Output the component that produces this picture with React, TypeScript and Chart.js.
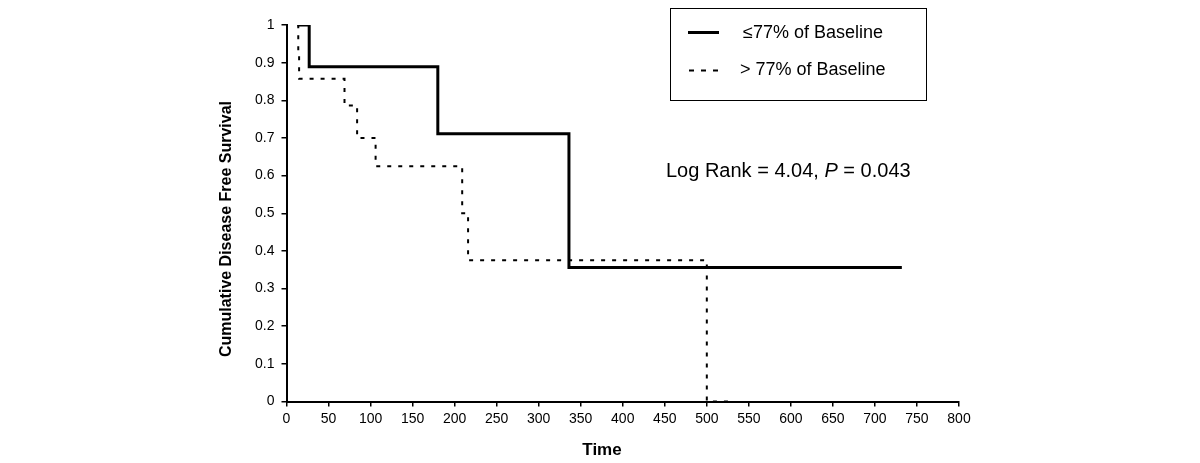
import React, { useEffect, useRef } from "react";
import { Chart, registerables } from "chart.js";

Chart.register(...registerables);

// Kaplan-Meier step data (time, cumulative survival)
const solidTimes = [13, 27, 180, 336, 732];
const solidSurvival = [1, 0.889, 0.711, 0.356, 0.356];
const dottedTimes = [13, 14, 15, 69, 84, 106, 209, 216, 500, 530];
const dottedSurvival = [1, 0.929, 0.857, 0.786, 0.7, 0.625, 0.5, 0.375, 0, 0];

const seriesLabels = ["\u226477% of Baseline", "> 77% of Baseline"];
const xTitle = "Time";
const yTitle = "Cumulative Disease Free Survival";
const statText = ["Log Rank = 4.04, ", "P", " = 0.043"];

const xMin = 0;
const xMax = 800;
const xStep = 50;
const yMin = 0;
const yMax = 1;
const yStep = 0.1;

const FONT = "'Liberation Sans', Arial, Helvetica, sans-serif";

const overlayPlugin = {
  id: "overlay",
  afterDraw(chart: any) {
    const ctx = chart.ctx as CanvasRenderingContext2D;
    ctx.save();
    ctx.fillStyle = "#000";
    ctx.strokeStyle = "#000";

    // Y axis title
    ctx.save();
    ctx.translate(227, 229);
    ctx.rotate(-Math.PI / 2);
    ctx.font = `bold 16px ${FONT}`;
    ctx.textAlign = "center";
    ctx.textBaseline = "middle";
    ctx.fillText(yTitle, 0, 0);
    ctx.restore();

    // X axis title
    ctx.font = `bold 17px ${FONT}`;
    ctx.textAlign = "center";
    ctx.textBaseline = "middle";
    ctx.fillText(xTitle, 602, 450);

    // Legend box
    ctx.lineWidth = 1;
    ctx.strokeRect(670.5, 8.5, 256, 92);
    ctx.lineWidth = 3;
    ctx.setLineDash([]);
    ctx.beginPath();
    ctx.moveTo(688, 32.5);
    ctx.lineTo(719, 32.5);
    ctx.stroke();
    ctx.lineWidth = 2;
    ctx.setLineDash([5, 7]);
    ctx.beginPath();
    ctx.moveTo(689, 70.5);
    ctx.lineTo(719, 70.5);
    ctx.stroke();
    ctx.setLineDash([]);
    ctx.font = `18px ${FONT}`;
    ctx.textAlign = "left";
    ctx.textBaseline = "middle";
    ctx.fillText(seriesLabels[0], 743, 33);
    ctx.fillText(seriesLabels[1], 740, 70);

    // Statistic annotation
    let x = 666;
    const y = 171;
    ctx.font = `20px ${FONT}`;
    ctx.fillText(statText[0], x, y);
    x += ctx.measureText(statText[0]).width;
    ctx.font = `italic 20px ${FONT}`;
    ctx.fillText(statText[1], x, y);
    x += ctx.measureText(statText[1]).width;
    ctx.font = `20px ${FONT}`;
    ctx.fillText(statText[2], x, y);

    ctx.restore();
  },
};

export default function App() {
  const canvasRef = useRef<HTMLCanvasElement | null>(null);

  useEffect(() => {
    if (!canvasRef.current) return;
    Chart.defaults.font.family = FONT;
    Chart.defaults.color = "#000";

    const chart = new Chart(canvasRef.current, {
      type: "line",
      data: {
        datasets: [
          {
            label: seriesLabels[0],
            data: solidTimes.map((t, i) => ({ x: t, y: solidSurvival[i] })),
            borderColor: "#000",
            borderWidth: 3,
            stepped: "before",
            pointRadius: 0,
            fill: false,
          },
          {
            label: seriesLabels[1],
            data: dottedTimes.map((t, i) => ({ x: t, y: dottedSurvival[i] })),
            borderColor: "#000",
            borderWidth: 2,
            borderDash: [4, 7],
            stepped: "before",
            pointRadius: 0,
            fill: false,
          },
        ],
      },
      options: {
        responsive: false,
        animation: false,
        layout: { padding: { left: 0, top: 25, right: 241, bottom: 0 } },
        plugins: {
          legend: { display: false },
          tooltip: { enabled: false },
          title: { display: false },
        },
        scales: {
          x: {
            type: "linear",
            min: xMin,
            max: xMax,
            ticks: {
              stepSize: xStep,
              autoSkip: false,
              maxRotation: 0,
              color: "#000",
              font: { size: 14 },
              padding: 4,
            },
            grid: {
              drawOnChartArea: false,
              drawTicks: true,
              tickLength: 5,
              color: "#000",
              lineWidth: 1.5,
            },
            border: { display: true, color: "#000", width: 2 },
            afterFit: (s: any) => {
              s.height = 61.5;
            },
          },
          y: {
            type: "linear",
            min: yMin,
            max: yMax,
            ticks: {
              stepSize: yStep,
              color: "#000",
              font: { size: 14 },
              padding: 7,
              callback: (v: any) => String(Math.round(Number(v) * 10) / 10),
            },
            grid: {
              drawOnChartArea: false,
              drawTicks: true,
              tickLength: 5,
              color: "#000",
              lineWidth: 1.5,
            },
            border: { display: true, color: "#000", width: 2 },
            afterFit: (s: any) => {
              s.width = 286.5;
            },
          },
        },
      },
      plugins: [overlayPlugin],
    });
    return () => chart.destroy();
  }, []);

  return (
    <div style={{ position: "absolute", left: 0, top: 0, width: 1200, height: 463, background: "#fff" }}>
      <canvas ref={canvasRef} width={1200} height={463} />
    </div>
  );
}
